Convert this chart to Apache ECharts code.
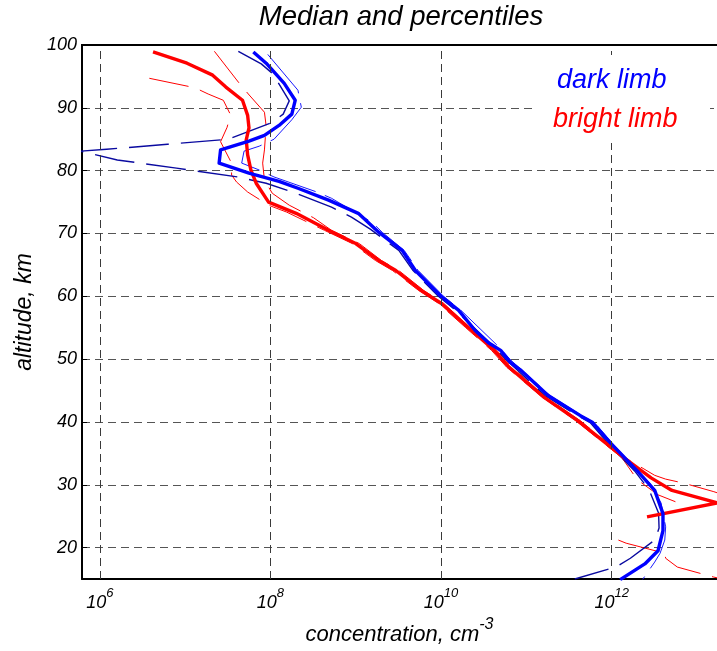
<!DOCTYPE html>
<html><head><meta charset="utf-8">
<script src="https://cdn.jsdelivr.net/npm/echarts@6/dist/echarts.min.js"></script>
<style>html,body{margin:0;padding:0;background:#fff}#c{width:717px;height:651px}</style>
</head><body><div id="c"></div>
<script>
// ---- data (altitude km, concentration cm^-3) ----
const darkMedianAlt  = [98.9, 97.1, 93.9, 91.2, 89.0, 87.2, 85.6, 84.7, 83.3, 81.2, 79.6, 78.3, 77.2, 75.3, 73.2, 70.2, 67.3, 64.1, 60.0, 57.8, 54.6, 52.6, 51.4, 49.4, 48.3, 44.2, 41.0, 39.9, 36.6, 32.2, 29.1, 25.4, 22.7, 19.5, 17.4, 14.9];
const darkMedianConc = [6.3e7, 8.9e7, 1.45e8, 1.95e8, 1.78e8, 1.26e8, 8.5e7, 5.6e7, 2.6e7, 2.5e7, 5.6e7, 1.26e8, 2.1e8, 4.8e8, 1.07e9, 1.86e9, 3.5e9, 5.0e9, 1.0e10, 1.6e10, 2.5e10, 3.6e10, 5.0e10, 6.6e10, 8.5e10, 1.8e11, 4.3e11, 6.0e11, 9.8e11, 2.0e12, 3.2e12, 4.0e12, 4.0e12, 3.5e12, 2.45e12, 1.26e12];

const brightMedianAlt  = [98.9, 97.1, 95.2, 93.3, 91.2, 88.8, 86.8, 84.9, 82.5, 80.1, 78.0, 75.0, 73.2, 70.5, 68.4, 65.7, 64.1, 60.9, 58.9, 55.0, 51.4, 48.7, 43.9, 40.2, 36.2, 34.3, 31.1, 29.1, 27.1, 24.9];
const brightMedianConc = [4.2e6, 1.05e7, 2.1e7, 3.0e7, 4.7e7, 5.4e7, 5.6e7, 5.2e7, 5.4e7, 5.9e7, 6.8e7, 9.5e7, 2.0e8, 4.8e8, 1.0e9, 1.86e9, 2.95e9, 5.9e9, 1.0e10, 2.1e10, 4.2e10, 6.3e10, 1.62e11, 4.0e11, 9.4e11, 1.4e12, 2.9e12, 5.1e12, 1.74e13, 2.6e12];

const darkLowAlt  = [99.0, 97.0, 95.4, 91.1, 89.0, 87.6, 85.0, 84.2, 83.4, 83.1, 81.7, 80.4, 79.0, 78.0, 76.4, 74.2, 72.6, 70.7, 67.3, 64.1, 60.0, 57.8, 51.9, 49.9, 44.2, 41.0, 39.9, 36.6, 32.2, 29.2, 25.5, 23.1, 21.2, 18.3, 16.9, 15.0];
const darkLowConc = [4.2e7, 7.8e7, 1.07e8, 1.66e8, 1.41e8, 1.02e8, 3.2e7, 6.2e6, 1.2e6, 5.9e5, 1.6e6, 7.9e6, 4.1e7, 8.9e7, 2.0e8, 5.2e8, 8.9e8, 1.48e9, 3.2e9, 4.7e9, 9.3e9, 1.48e10, 4.2e10, 5.8e10, 1.66e11, 4.0e11, 5.6e11, 9.1e11, 1.86e12, 2.75e12, 3.55e12, 3.6e12, 3.2e12, 1.66e12, 1.12e12, 3.7e11];

const darkHighAlt  = [98.5, 92.8, 90.1, 88.1, 85.0, 83.9, 83.1, 81.2, 80.1, 79.0, 76.6, 75.6, 71.8, 70.2, 67.3, 64.1, 60.0, 57.8, 51.9, 49.9, 44.2, 41.0, 39.9, 36.6, 32.2, 30.3, 27.1, 23.3, 21.2, 19.1, 17.7, 14.9];
const darkHighConc = [9.3e7, 2.1e8, 2.3e8, 1.78e8, 1.1e8, 7.4e7, 4.9e7, 4.6e7, 7.4e7, 1.1e8, 3.5e8, 5.2e8, 1.55e9, 2.04e9, 3.7e9, 5.4e9, 1.07e10, 1.7e10, 4.8e10, 6.5e10, 1.9e11, 4.5e11, 6.3e11, 1.02e12, 2.04e12, 2.8e12, 3.8e12, 4.3e12, 4.2e12, 3.7e12, 3.2e12, 2.3e12];

const brightHighAlt  = [99.0, 94.1, 92.2, 89.3, 87.1, 83.3, 81.2, 78.5, 76.4, 74.5, 72.5, 70.5, 68.4, 65.7, 64.1, 60.9, 58.9, 55.0, 51.4, 48.7, 43.9, 40.2, 36.2, 34.4, 31.5, 30.9, 30.3, 28.9, 27.5];
const brightHighConc = [2.2e7, 4.2e7, 5.5e7, 8.5e7, 8.9e7, 8.5e7, 8.1e7, 8.5e7, 1.05e8, 1.66e8, 3.2e8, 5.2e8, 1.1e9, 2.0e9, 3.2e9, 6.3e9, 1.07e10, 2.2e10, 4.5e10, 6.8e10, 1.72e11, 4.3e11, 9.8e11, 1.4e12, 3.2e12, 4.3e12, 6.8e12, 1.58e13, 3.2e13];

const brightLowAlt  = [94.7, 93.2, 92.2, 91.2, 88.9, 86.9, 84.6, 81.2, 79.3, 78.2, 76.6, 74.5, 73.4, 70.5, 68.4, 65.7, 64.1, 60.9, 58.9, 55.0, 51.4, 48.7, 43.9, 40.2, 36.2, 34.3, 30.8, 28.4, 27.3, null, 21.2, 20.7, 19.1, 18.3, 16.9, 15.3, 14.5];
const brightLowConc = [3.8e6, 1.3e7, 1.86e7, 2.8e7, 3.4e7, 3.1e7, 2.6e7, 3.5e7, 3.5e7, 4.0e7, 5.4e7, 9.5e7, 1.55e8, 4.3e8, 9.1e8, 1.7e9, 2.7e9, 5.5e9, 9.3e9, 1.95e10, 3.9e10, 5.9e10, 1.55e11, 3.8e11, 8.8e11, 1.32e12, 2.0e12, 3.5e12, 5.6e12, null, 1.2e12, 1.48e12, 4.2e12, 4.3e12, 5.9e12, 1.58e13, 3.0e13];

const xTickExponents = [6, 8, 10, 12];
const yTickValues = [20, 30, 40, 50, 60, 70, 80, 90, 100];
const legendLabels = ['dark limb', 'bright limb'];

// ---- build ----
const FONT = '"Liberation Sans", Arial, Helvetica, sans-serif';
function pairs(conc, alt) {
  return conc.map((c, i) => (c === null || alt[i] === null) ? ['-', '-'] : [c, alt[i]]);
}
function line(name, conc, alt, color, width, type) {
  return {
    name: name, type: 'line', data: pairs(conc, alt), showSymbol: false, symbol: 'none',
    connectNulls: false, clip: true, silent: true,
    lineStyle: { color: color, width: width, type: type || 'solid', cap: 'butt', join: 'round' },
    itemStyle: { color: color }
  };
}
const series = [
  line('bright limb low', brightLowConc, brightLowAlt, '#ff0000', 1, [40, 12]),
  line('bright limb high', brightHighConc, brightHighAlt, '#ff0000', 1, [40, 12]),
  line('dark limb low', darkLowConc, darkLowAlt, '#0a0aa0', 1.4, [40, 12]),
  line('dark limb high', darkHighConc, darkHighAlt, '#1a1aff', 1, [50, 10]),
  line(legendLabels[1], brightMedianConc, brightMedianAlt, '#ff0000', 3.4),
  line(legendLabels[0], darkMedianConc, darkMedianAlt, '#0000ff', 3.4)
];
// vertical grid lines at the labelled decades
series[0].markLine = {
  silent: true, symbol: ['none', 'none'], label: { show: false }, animation: false,
  lineStyle: { color: '#3a3a3a', width: 1, type: [8, 5] },
  emphasis: { disabled: true },
  data: xTickExponents.map(e => ({ xAxis: Math.pow(10, e) }))
};
const chart = echarts.init(document.getElementById('c'), null, { renderer: 'canvas' });
const option = {
  animation: false,
  backgroundColor: '#ffffff',
  grid: { left: 82, top: 45, width: 638, height: 534, show: false },
  xAxis: {
    type: 'log', logBase: 10, min: 6.17e5, max: 1.72e13,
    name: '{n|concentration, cm}{s|-3}', nameLocation: 'middle', nameGap: 35,
    nameTextStyle: {
      rich: {
        n: { fontFamily: FONT, fontStyle: 'italic', fontSize: 22, lineHeight: 36, color: '#000' },
        s: { fontFamily: FONT, fontStyle: 'italic', fontSize: 16, lineHeight: 16, verticalAlign: 'top', color: '#000' }
      }
    },
    axisLine: { show: true, onZero: false, lineStyle: { color: '#000', width: 2 } },
    axisTick: { show: false },
    axisLabel: {
      margin: 8, showMinLabel: false, showMaxLabel: false,
      formatter: function (v) {
        const l = Math.log10(v), e = Math.round(l);
        if (Math.abs(l - e) > 0.01 || xTickExponents.indexOf(e) < 0) return '';
        return '{b|10}{s|' + e + '}';
      },
      rich: {
        b: { fontFamily: FONT, fontStyle: 'italic', fontSize: 18, lineHeight: 32, color: '#000' },
        s: { fontFamily: FONT, fontStyle: 'italic', fontSize: 13, lineHeight: 13, verticalAlign: 'top', color: '#000' }
      }
    },
    splitLine: { show: false },
    minorTick: { show: false }
  },
  yAxis: {
    type: 'value', min: 15, max: 100, splitNumber: 8,
    name: 'altitude, km', nameLocation: 'middle', nameGap: 46, nameRotate: 90,
    nameTextStyle: { fontFamily: FONT, fontStyle: 'italic', fontSize: 23, lineHeight: 23, color: '#000' },
    axisLine: { show: true, onZero: false, lineStyle: { color: '#000', width: 2 } },
    axisTick: { show: true, inside: true, length: 5, lineStyle: { color: '#000', width: 1 } },
    axisLabel: {
      margin: 5, fontFamily: FONT, fontStyle: 'italic', fontSize: 18, color: '#000',
      formatter: function (v) { return yTickValues.indexOf(v) >= 0 ? String(v) : ''; }
    },
    splitLine: { show: true, showMinLine: false, showMaxLine: false, lineStyle: { color: '#555', width: 1, type: [8, 5] } }
  },
  series: series,
  graphic: [
    { type: 'line', z: 50, shape: { x1: 81, y1: 45, x2: 717, y2: 45 }, style: { stroke: '#000', lineWidth: 2 } },
    { type: 'rect', z: 60, shape: { x: 537, y: 55, width: 173, height: 88 }, style: { fill: '#fff' } },
    { type: 'text', z: 61, x: 401, y: 17.5, style: { text: 'Median and percentiles', font: 'italic 27.5px ' + FONT, fill: '#000', align: 'center', verticalAlign: 'middle' } },
    { type: 'text', z: 61, x: 557, y: 80, style: { text: legendLabels[0], font: 'italic 27px ' + FONT, fill: '#0000ff', align: 'left', verticalAlign: 'middle' } },
    { type: 'text', z: 61, x: 553, y: 119, style: { text: legendLabels[1], font: 'italic 27px ' + FONT, fill: '#ff0000', align: 'left', verticalAlign: 'middle' } }
  ]
};
chart.setOption(option);
</script>
</body></html>
